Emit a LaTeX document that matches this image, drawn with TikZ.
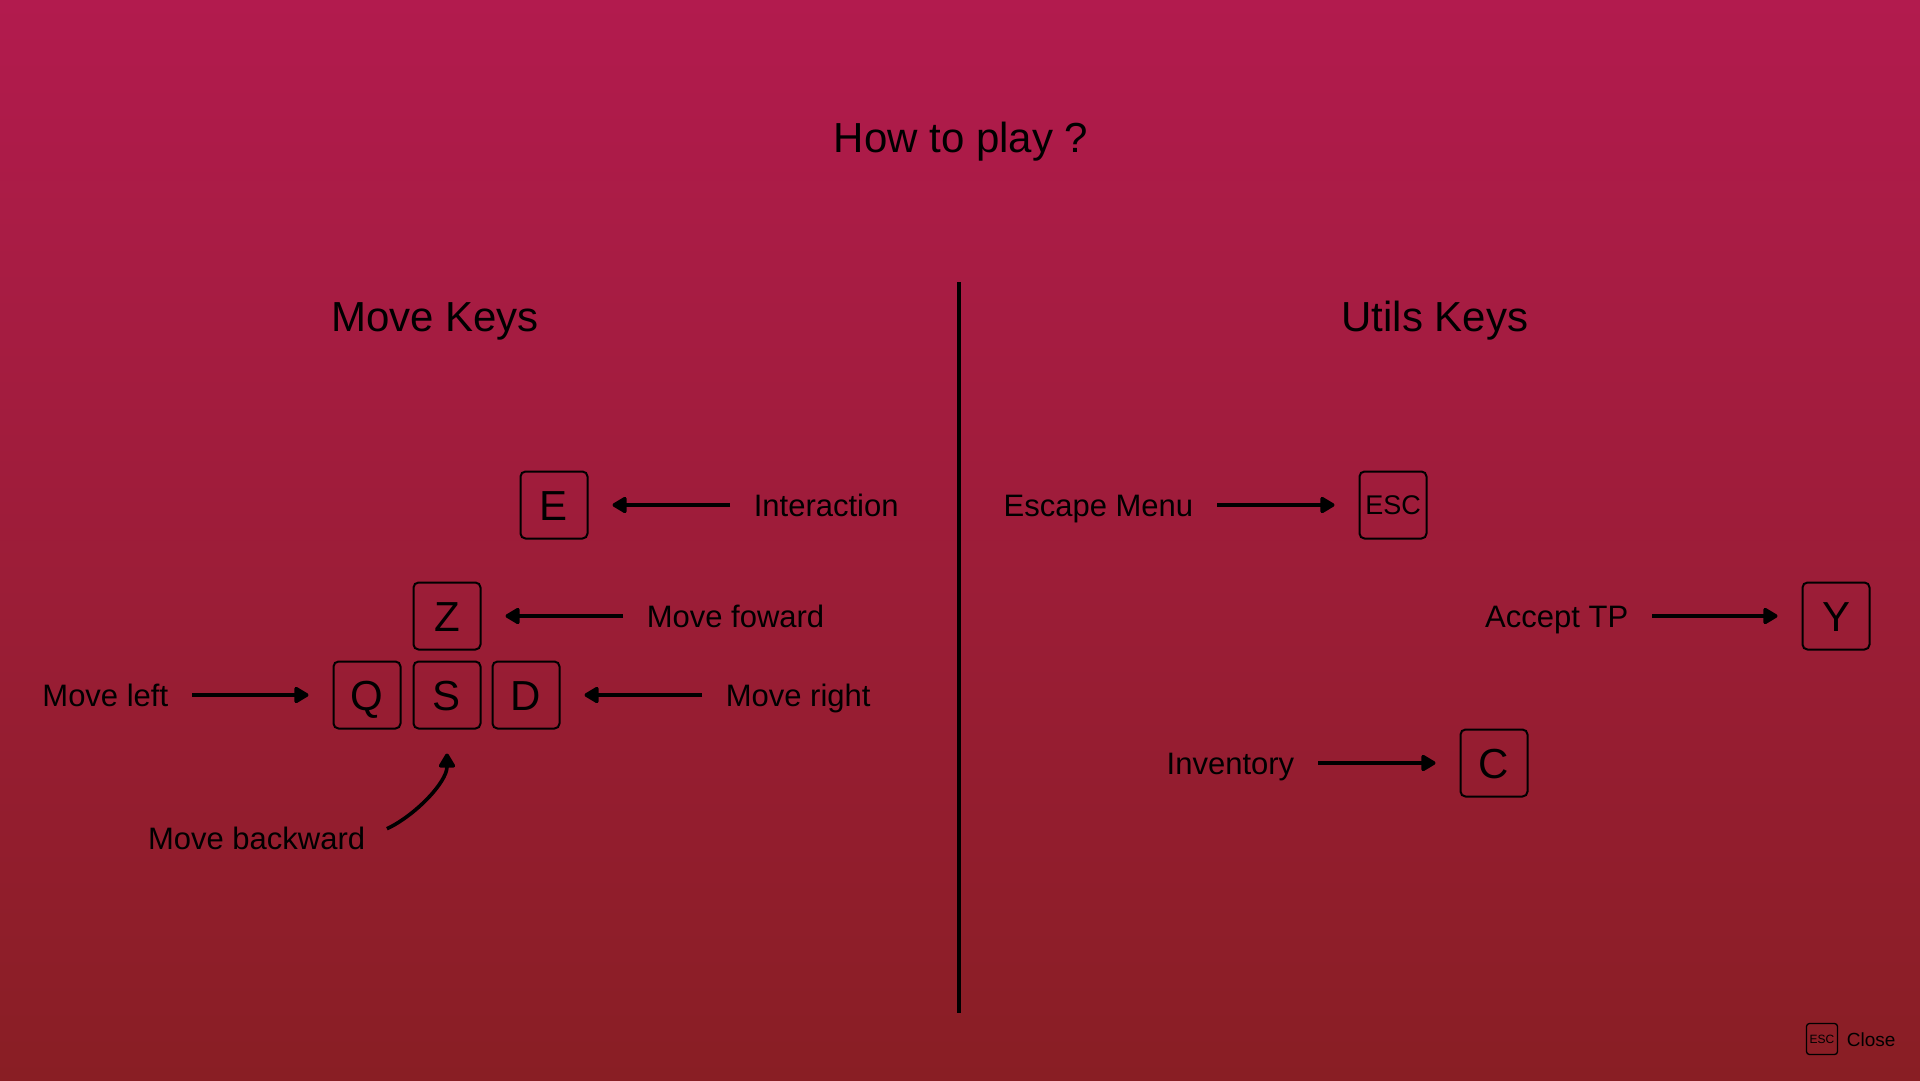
\documentclass[tikz,border=0pt]{standalone}
\usepackage{fontspec}
\setmainfont{Liberation Sans}
\usetikzlibrary{arrows.meta}
\definecolor{bgtop}{RGB}{178,27,78}
\definecolor{bgbottom}{RGB}{137,30,36}

\begin{document}
\begin{tikzpicture}[x=1pt,y=-1pt,->,>={Triangle[length=16pt,width=18pt,round]},line width=3.6pt,
	key node/.style={draw,rounded corners=5pt,line width=2pt,minimum size=67pt,inner sep=0pt,text height=30pt,text depth=0pt,font=\fontsize{42}{42}\selectfont},
	small key/.style={draw,rounded corners=3pt,line width=1.3pt,minimum size=31pt,inner sep=0pt,font=\fontsize{12}{12}\selectfont},
	label node/.style={inner sep=0pt,text height=23pt,text depth=1pt,font=\fontsize{31}{36}\selectfont},
	title node/.style={font=\fontsize{42}{50}\selectfont},
	every edge/.style={draw,shorten <=22pt,shorten >=24pt}]

	%background
	\shade[top color=bgtop,bottom color=bgbottom] (0,0) rectangle (1920,1080);

	%titles
	\node[title node] (Title) at (961,142) {How to play ?};
	\node[title node] (MoveTitle) at (435,321) {Move Keys};
	\node[title node] (UtilsTitle) at (1435,321) {Utils Keys};

	%divider
	\coordinate (DivTop) at (959,282);
	\coordinate (DivBottom) at (959,1013);
	\draw[-,line width=4pt] (DivTop) -- (DivBottom);

	%move keys
	\node[key node] (E) at (554,505) {E};
	\node[key node] (Z) at (447,616) {Z};
	\node[key node] (Q) at (367,695) {Q};
	\node[key node] (S) at (447,695) {S};
	\node[key node] (D) at (526,695) {D};

	%utils keys
	\node[key node, text height=19pt, font=\fontsize{27}{27}\selectfont] (ESC) at (1393,505) {ESC};
	\node[key node] (Y) at (1836,616) {Y};
	\node[key node] (C) at (1494,763) {C};

	%labels
	\node[label node, anchor=west] (Interaction) at (752,505) {Interaction};
	\node[label node, anchor=west] (Forward) at (645,616) {Move foward};
	\node[label node, anchor=west] (Right) at (724,695) {Move right};
	\node[label node, anchor=east] (Left) at (170,695) {Move left};
	\node[label node, anchor=east] (Backward) at (367,838) {Move backward};
	\node[label node, anchor=east] (EscMenu) at (1195,505) {Escape Menu};
	\node[label node, anchor=east] (AcceptTP) at (1630,616) {Accept TP};
	\node[label node, anchor=east] (Inventory) at (1296,763) {Inventory};

	%close hint
	\node[small key] (CloseKey) at (1822,1039) {ESC};
	\node[anchor=west, inner sep=0pt, font=\fontsize{19}{19}\selectfont] (Close) at (1845,1040) {Close};

	%arrows to move keys
	\path
		(Interaction.west) edge (E.east)
		(Forward.west) edge (Z.east)
		(Right.west) edge (D.east)
		(Left.east) edge (Q.west)
		(Backward.east) edge[out=25,in=-90] (S.south);

	%arrows to utils keys
	\path
		(EscMenu.east) edge (ESC.west)
		(AcceptTP.east) edge (Y.west)
		(Inventory.east) edge (C.west);

\end{tikzpicture}
\end{document}
